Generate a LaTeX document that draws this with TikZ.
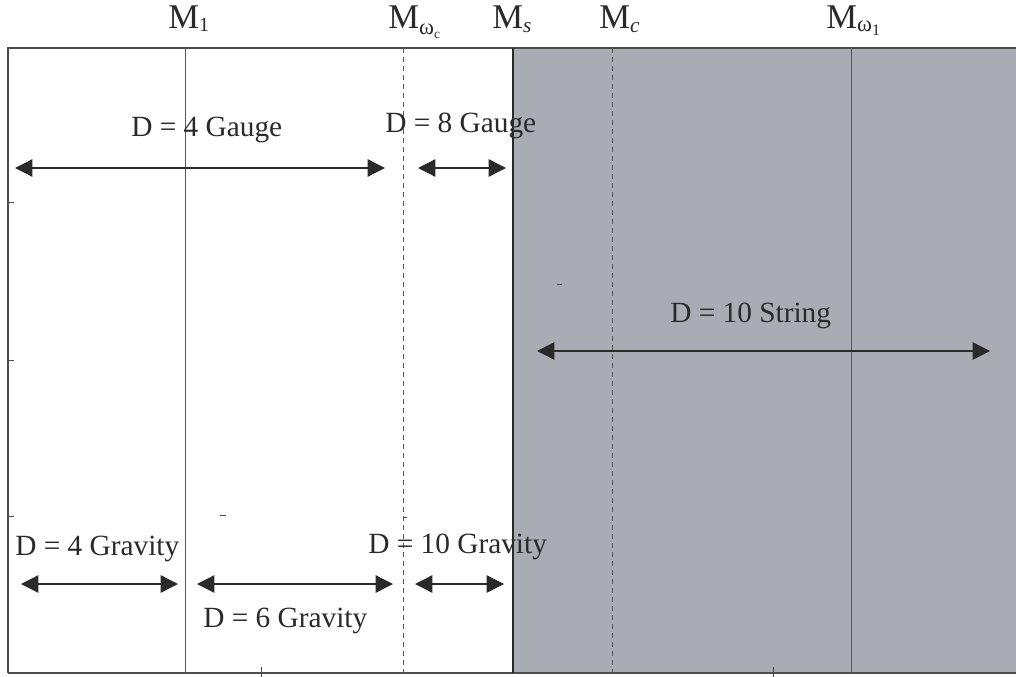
\documentclass[tikz,border=0pt]{standalone}
\usepackage{fontspec}
\setmainfont{Liberation Serif}
\usetikzlibrary{arrows.meta}
\definecolor{grayfill}{HTML}{A9ADB3}
\definecolor{ink}{HTML}{2A2A2A}
\begin{document}
\begin{tikzpicture}[x=0.75pt,y=-0.75pt,
  dim/.style={{Triangle[length=13pt,width=13pt]}-{Triangle[length=13pt,width=13pt]}, line width=1pt, draw=ink},
  lbl/.style={font=\fontsize{22}{24}\selectfont, text=ink, inner sep=0pt, anchor=base west},
  mlbl/.style={font=\fontsize{26}{28}\selectfont, text=ink, inner sep=0pt, anchor=base west},
  solidline/.style={draw=black!65, line width=0.75pt},
  dashline/.style={draw=black!65, line width=0.75pt, dash pattern=on 3.75pt off 3pt},
  tick/.style={draw=black!70, line width=0.75pt},
  frame/.style={draw=black!70, line width=1.1pt}]
\useasboundingbox (0,0) rectangle (1016,677);
% shaded region
\fill[fill=grayfill] (513,48) rectangle (1016,673);
% frame
\draw[frame] (8,673) -- (8,48) -- (1016,48);
\draw[frame] (8,673) -- (1016,673);
\draw[draw=ink, line width=1.5pt] (513,48) -- (513,673);
% scale lines
\draw[solidline] (185,48) -- (185,673);
\draw[dashline] (403,48) -- (403,673);
\draw[dashline] (612,48) -- (612,673);
\draw[solidline] (851,48) -- (851,673);
% ticks
\draw[tick] (8,203) -- (14,203);
\draw[tick] (8,360) -- (14,360);
\draw[tick] (8,516) -- (14,516);
\draw[tick] (261,667) -- (261,677);
\draw[tick] (773,667) -- (773,677);
\draw[tick] (220,515) -- (226,515);
\draw[tick] (557,284) -- (562,284);
\draw[tick] (403,517) -- (407,517);
% top labels
\node[mlbl] (m1) at (168,29) {M\raisebox{-2pt}{\fontsize{15}{15}\selectfont 1}};
\node[mlbl] (mwc) at (388,29) {M\raisebox{-4pt}{\fontsize{17}{17}\selectfont ω\raisebox{-3pt}{\fontsize{10}{10}\selectfont c}}};
\node[mlbl] (ms) at (492,29) {M\raisebox{-3pt}{\fontsize{16}{16}\selectfont\itshape s}};
\node[mlbl] (mc) at (599,29) {M\raisebox{-3pt}{\fontsize{16}{16}\selectfont\itshape c}};
\node[mlbl] (mw1) at (826,29) {M\raisebox{-2pt}{\fontsize{17}{17}\selectfont ω\raisebox{-3pt}{\fontsize{12}{12}\selectfont 1}}};
% arrow end points
\coordinate (g4a) at (15,168);  \coordinate (g4b) at (385,168);
\coordinate (g8a) at (418,168); \coordinate (g8b) at (506,168);
\coordinate (s10a) at (537,351); \coordinate (s10b) at (990,351);
\coordinate (v4a) at (21,584);  \coordinate (v4b) at (178,584);
\coordinate (v6a) at (197,584); \coordinate (v6b) at (393,584);
\coordinate (v10a) at (415,584); \coordinate (v10b) at (504,584);
% arrows
\draw[dim] (g4a) -- (g4b);
\draw[dim] (g8a) -- (g8b);
\draw[dim] (s10a) -- (s10b);
\draw[dim] (v4a) -- (v4b);
\draw[dim] (v6a) -- (v6b);
\draw[dim] (v10a) -- (v10b);
% labels
\node[lbl] (l4g) at (131,137) {D = 4 Gauge};
\node[lbl] (l8g) at (385,133) {D = 8 Gauge};
\node[lbl] (l10s) at (670,322) {D = 10 String};
\node[lbl] (l4v) at (15,555) {D = 4 Gravity};
\node[lbl] (l6v) at (203,627) {D = 6 Gravity};
\node[lbl] (l10v) at (368,553) {D = 10 Gravity};
\end{tikzpicture}
\end{document}
